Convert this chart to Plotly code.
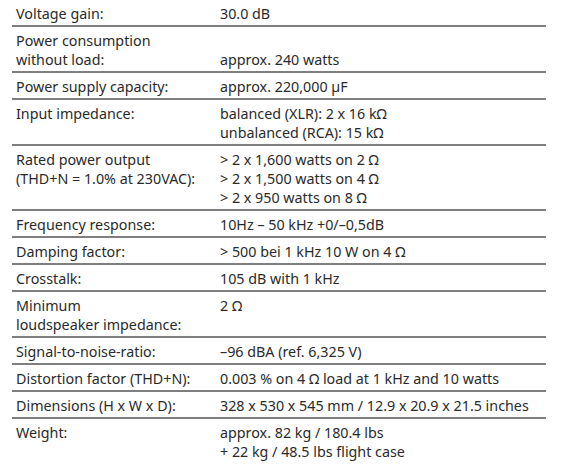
import plotly.graph_objects as go

labels = [
    ["Voltage gain:"],
    ["Power consumption", "without load:"],
    ["Power supply capacity:"],
    ["Input impedance:"],
    ["Rated power output", "(THD+N = 1.0% at 230VAC):"],
    ["Frequency response:"],
    ["Damping factor:"],
    ["Crosstalk:"],
    ["Minimum", "loudspeaker impedance:"],
    ["Signal-to-noise-ratio:"],
    ["Distortion factor (THD+N):"],
    ["Dimensions (H x W x D):"],
    ["Weight:"],
]
values = [
    ["30.0 dB"],
    ["", "approx. 240 watts"],
    ["approx. 220,000 µF"],
    ["balanced (XLR): 2 x 16 kΩ", "unbalanced (RCA): 15 kΩ"],
    ["> 2 x 1,600 watts on 2 Ω", "> 2 x 1,500 watts on 4 Ω", "> 2 x 950 watts on 8 Ω"],
    ["10Hz – 50 kHz +0/–0,5dB"],
    ["> 500 bei 1 kHz 10 W on 4 Ω"],
    ["105 dB with 1 kHz"],
    ["2 Ω"],
    ["–96 dBA (ref. 6,325 V)"],
    ["0.003 % on 4 Ω load at 1 kHz and 10 watts"],
    ["328 x 530 x 545 mm / 12.9 x 20.9 x 21.5 inches"],
    ["approx. 82 kg / 180.4 lbs", "+ 22 kg / 48.5 lbs flight case"],
]

W, H = 573, 470
LINE, PAD_TOP, PAD_BOT = 19, 14, 13
XL, XR, X0, XEND = 6, 210, 4, 538
font = dict(family="Noto Sans", size=14.3, color="#2a2a2a")

fig = go.Figure()
anns, shapes = [], []
top = -9
for i, (lab, val) in enumerate(zip(labels, values)):
    n = max(len(lab), len(val))
    for j, t in enumerate(lab):
        anns.append(dict(x=XL, y=top + PAD_TOP + j * LINE, text=t, xanchor="left",
                         yanchor="middle", showarrow=False, font=font))
    for j, t in enumerate(val):
        if t:
            anns.append(dict(x=XR, y=top + PAD_TOP + j * LINE, text=t, xanchor="left",
                             yanchor="middle", showarrow=False, font=font))
    bottom = top + PAD_TOP + (n - 1) * LINE + PAD_BOT
    if i < len(labels) - 1:
        shapes.append(dict(type="line", x0=X0, x1=XEND, y0=bottom, y1=bottom,
                           line=dict(color="#555555", width=1.5)))
    top = bottom

fig.update_layout(width=W, height=H, margin=dict(l=0, r=0, t=0, b=0),
                  paper_bgcolor="white", plot_bgcolor="white",
                  xaxis=dict(range=[0, W], visible=False, fixedrange=True),
                  yaxis=dict(range=[H, 0], visible=False, fixedrange=True),
                  annotations=anns, shapes=shapes, showlegend=False)
fig.write_html("out.html")
